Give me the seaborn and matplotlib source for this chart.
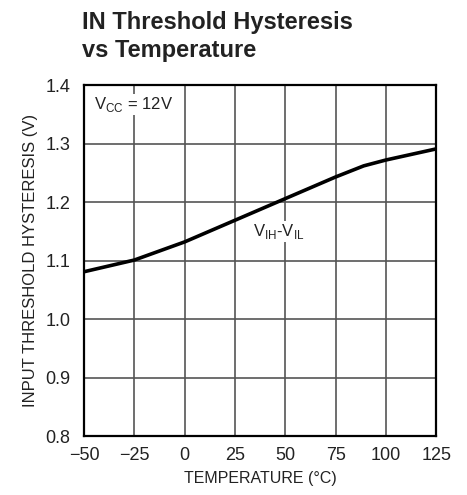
import matplotlib
matplotlib.use("Agg")
import matplotlib.pyplot as plt
import seaborn as sns
import pandas as pd

# curve
temperature = [-50, -25, 0, 25, 50, 75, 89, 100, 125]
hysteresis = [1.081, 1.101, 1.132, 1.169, 1.206, 1.243, 1.262, 1.272, 1.291]
x_ticks = [-50, -25, 0, 25, 50, 75, 100, 125]
y_ticks = [0.8, 0.9, 1.0, 1.1, 1.2, 1.3, 1.4]

df = pd.DataFrame({"T": temperature, "H": hysteresis})

sns.set_style("white")
plt.rcParams["font.family"] = ["Liberation Sans", "DejaVu Sans"]

fig = plt.figure(figsize=(4.67, 4.95), dpi=100)
ax = fig.add_axes([0.180, 0.119, 0.754, 0.709])

sns.lineplot(data=df, x="T", y="H", ax=ax, color="black", linewidth=2.6)

ax.set_xlim(-50, 125)
ax.set_ylim(0.8, 1.4)
ax.set_xticks(x_ticks)
ax.set_xticklabels(["\u221250", "\u221225", "0", "25", "50", "75", "100", "125"])
ax.set_yticks(y_ticks)
ax.set_yticklabels([f"{v:.1f}" for v in y_ticks])
ax.tick_params(length=0, labelsize=13, colors="#222222")
ax.tick_params(axis="x", pad=8)
ax.tick_params(axis="y", pad=10)
ax.grid(True, color="#555555", linewidth=1.2)
for s in ax.spines.values():
    s.set_color("black")
    s.set_linewidth(1.6)

ax.set_xlabel("TEMPERATURE (\u00b0C)", fontsize=11.5, color="#222222", labelpad=5)
ax.set_ylabel("INPUT THRESHOLD HYSTERESIS (V)", fontsize=12, color="#222222", labelpad=5)

ax.text(-45, 1.367, "V$_{\\mathregular{CC}}$ = 12V", fontsize=12, va="center", ha="left",
        color="#222222", bbox=dict(facecolor="white", edgecolor="none", pad=1))
ax.text(34, 1.15, "V$_{\\mathregular{IH}}$-V$_{\\mathregular{IL}}$", fontsize=12, va="center",
        ha="left", color="#222222", bbox=dict(facecolor="white", edgecolor="none", pad=1))

fig.text(0.176, 0.978, "IN Threshold Hysteresis\nvs Temperature", fontsize=17,
         fontweight="bold", va="top", ha="left", color="#222222", linespacing=1.3)

fig.savefig("out.png", dpi=100)
